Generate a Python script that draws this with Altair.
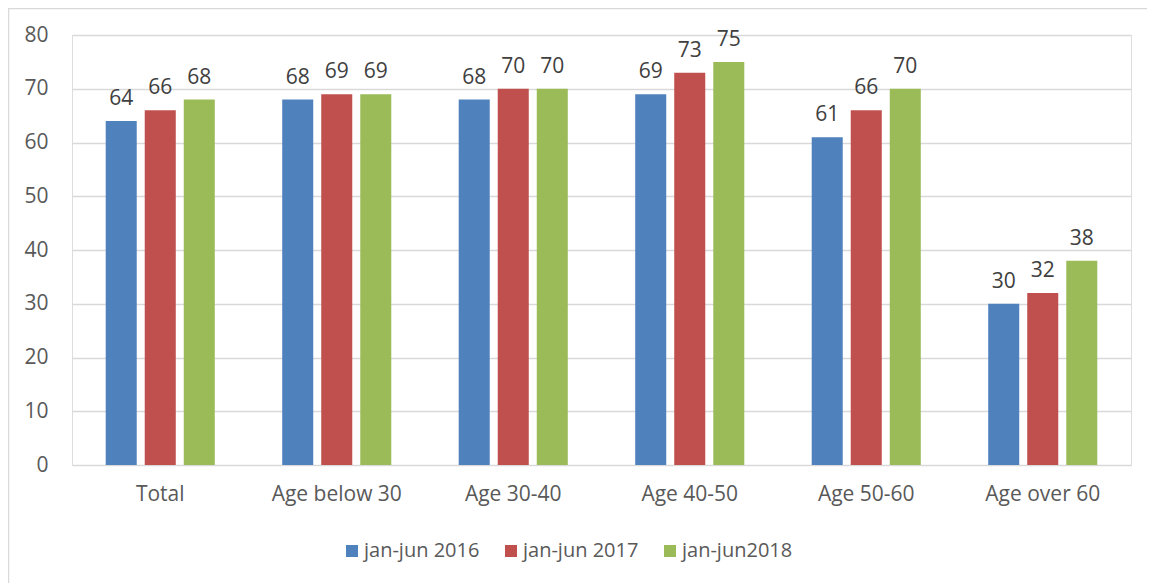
import altair as alt
import pandas as pd

categories = ["Total", "Age below 30", "Age 30-40", "Age 40-50", "Age 50-60", "Age over 60"]
series = ["jan-jun 2016", "jan-jun 2017", "jan-jun2018"]
v2016 = [64, 68, 68, 69, 61, 30]
v2017 = [66, 69, 70, 73, 66, 32]
v2018 = [68, 69, 70, 75, 70, 38]
colors = ["#4F81BD", "#C0504D", "#9BBB59"]

rows = []
for vals, s in zip([v2016, v2017, v2018], series):
    for c, v in zip(categories, vals):
        rows.append({"category": c, "series": s, "value": v})
df = pd.DataFrame(rows)

FONT = "Open Sans"
TXT = "#595959"

base = alt.Chart(df).encode(
    x=alt.X("category:N", sort=categories, title=None,
            scale=alt.Scale(paddingInner=0.382, paddingOuter=0.191),
            axis=alt.Axis(labelAngle=0, labelFontSize=21, labelColor=TXT, labelFont=FONT,
                          labelPadding=18, ticks=False, domain=False, grid=False)),
    xOffset=alt.XOffset("series:N", sort=series,
                        scale=alt.Scale(paddingInner=0.205, paddingOuter=0)),
)

bars = base.mark_bar().encode(
    y=alt.Y("value:Q", title=None,
            scale=alt.Scale(domain=[0, 80]),
            axis=alt.Axis(values=list(range(0, 81, 10)), labelFontSize=21, labelColor=TXT,
                          labelFont=FONT, labelPadding=24, ticks=False, domain=False,
                          gridColor="#D9D9D9", gridWidth=1.3)),
    color=alt.Color("series:N", sort=series,
                    scale=alt.Scale(domain=series, range=colors),
                    legend=alt.Legend(title=None, orient="none", direction="horizontal",
                                      legendX=270, legendY=506, symbolType="square",
                                      symbolSize=144, symbolStrokeWidth=0, labelFontSize=20,
                                      labelFont=FONT, labelColor=TXT, columnPadding=21,
                                      labelOffset=2)),
)

labels = base.mark_text(baseline="alphabetic", dy=-16, fontSize=21, font=FONT, color="#404040").encode(
    y="value:Q",
    text="value:Q",
)

border = alt.Chart(pd.DataFrame({"a": [0]})).mark_rect(
    fill=None, stroke="#D9D9D9", strokeWidth=1.5
).encode(x=alt.value(-63.5), x2=alt.value(1100), y=alt.value(-26.5), y2=alt.value(560))

chart = alt.layer(border, bars, labels).properties(
    width=1059, height=430,
    autosize=alt.AutoSizeParams(type="none"),
    padding={"left": 64, "top": 27, "right": 16, "bottom": 120},
).configure_view(stroke=None).configure(background="white")

chart.save("out.html", embed_options={"renderer": "svg", "actions": False})
